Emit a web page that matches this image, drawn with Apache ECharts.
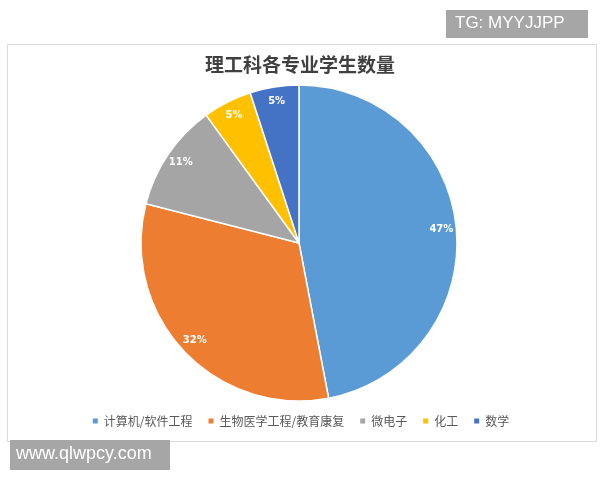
<!DOCTYPE html>
<html><head><meta charset="utf-8">
<script src="https://cdn.jsdelivr.net/npm/echarts@6/dist/echarts.min.js"></script>
<style>html,body{margin:0;padding:0;background:#fff}#c{width:600px;height:480px}</style>
</head><body><div id="c"></div>
<script>
var categories = ['计算机/软件工程','生物医学工程/教育康复','微电子','化工','数学'];
var values = [47, 32, 11, 5, 5];
var colors = ['#5B9BD5','#ED7D31','#A5A5A5','#FFC000','#4472C4'];
var chart = echarts.init(document.getElementById('c'));
var data = categories.map(function(n,i){return {name:n,value:values[i]};});
chart.setOption({
  animation:false,
  color: colors,
  title:{text:'理工科各专业学生数量',left:'center',top:50,textStyle:{fontFamily:'Noto Sans CJK SC',fontSize:19,fontWeight:'bold',color:'#404040'}},
  graphic:[
    {type:'rect',left:5,top:42,shape:{width:589,height:397},style:{fill:'none',stroke:'#d9d9d9',lineWidth:1},z:-1},
    {type:'rect',left:446,top:10,shape:{width:142,height:28},style:{fill:'#a6a6a6'}},
    {type:'text',left:455,top:15,style:{text:'TG: MYYJJPP',fill:'#fff',font:'17px "Liberation Sans"'}},
    {type:'rect',left:10,top:440,shape:{width:160,height:30},style:{fill:'#a6a6a6'}},
    {type:'text',left:16,top:445,style:{text:'www.qlwpcy.com',fill:'#fff',font:'18px "Liberation Sans"'}}
  ],
  legend:{bottom:48,left:'center',itemWidth:7,itemHeight:7,itemGap:14,icon:'rect',data:categories,
    textStyle:{fontFamily:'Noto Sans CJK SC',fontSize:12,color:'#595959'}},
  series:[{type:'pie',center:[299,243],radius:158,startAngle:90,clockwise:true,
    itemStyle:{borderColor:'#fff',borderWidth:1.5},
    label:{show:false},labelLine:{show:false},data:data
  },{type:'pie',center:[299,243],radius:[122,158],startAngle:90,clockwise:true,silent:true,
    itemStyle:{color:'transparent'},z:5,
    label:{position:'inside',formatter:'{c}%',color:'#fff',fontSize:10,fontWeight:'bold',fontFamily:'DejaVu Sans'},
    labelLine:{show:false},data:data
  }]
});
</script></body></html>
